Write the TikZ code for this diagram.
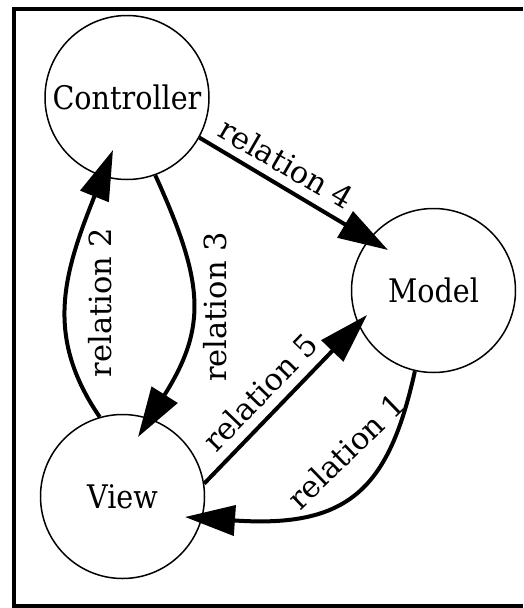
\documentclass[tikz,border=0pt]{standalone}
\usepackage{fontspec}
\setmainfont{DejaVu Serif}
\newfontfamily\circlefont[FakeStretch=0.88]{DejaVu Serif}
\usetikzlibrary{arrows.meta,calc}

\begin{document}
\begin{tikzpicture}[x=1pt,y=-1pt,
  unit/.style={circle, draw, line width=1.5pt, minimum size=164pt, inner sep=0pt,
    font=\circlefont\fontsize{32.5}{36}\selectfont},
  rel/.style={line width=4pt, -{Triangle[length=50pt,width=30pt]}},
  rellabel/.style={font=\fontsize{30.5}{34}\selectfont, inner sep=0pt},
  frame/.style={line width=4pt}]
\useasboundingbox (0,0) rectangle (523,608);

% outer frame (right side runs off the page)
\draw[frame] (523,8.7) -- (13.8,8.7) -- (13.8,606) -- (523,606);

% the three parts
\node[unit] (ctrl)  at (127,97.5)   {Controller};
\node[unit] (model) at (433.5,290.5) {Model};
\node[unit] (view)  at (122.5,496.5) {View};

% relations
\draw[rel] (model.-103.1) .. controls (389.1,487.8) and (349.6,528.5) .. ($(view.center)+(62.5,20.5)$);
\draw[rel] (view.106) .. controls (44.4,336.3) and (63.2,274.4) .. ($(ctrl.center)+(-14,52.5)$);
\draw[rel] (ctrl.-70.8) .. controls (203.9,282.1) and (207.8,326.2) .. ($(view.center)+(15.5,-59.5)$);
\draw[rel] (ctrl.-29.4) -- ($(model.center)+(-45.5,-40.5)$);
\draw[rel] (view.9.5) -- ($(model.center)+(-66.5,24.5)$);

% relation labels
\node[rellabel, rotate=44]  (l1) at (346,451)     {relation 1};
\node[rellabel, rotate=90]  (l2) at (100.6,302.5) {relation 2};
\node[rellabel, rotate=90]  (l3) at (215.6,307)   {relation 3};
\node[rellabel, rotate=-30] (l4) at (286.5,163.3) {relation 4};
\node[rellabel, rotate=46]  (l5) at (260,392)     {relation 5};
\end{tikzpicture}
\end{document}
